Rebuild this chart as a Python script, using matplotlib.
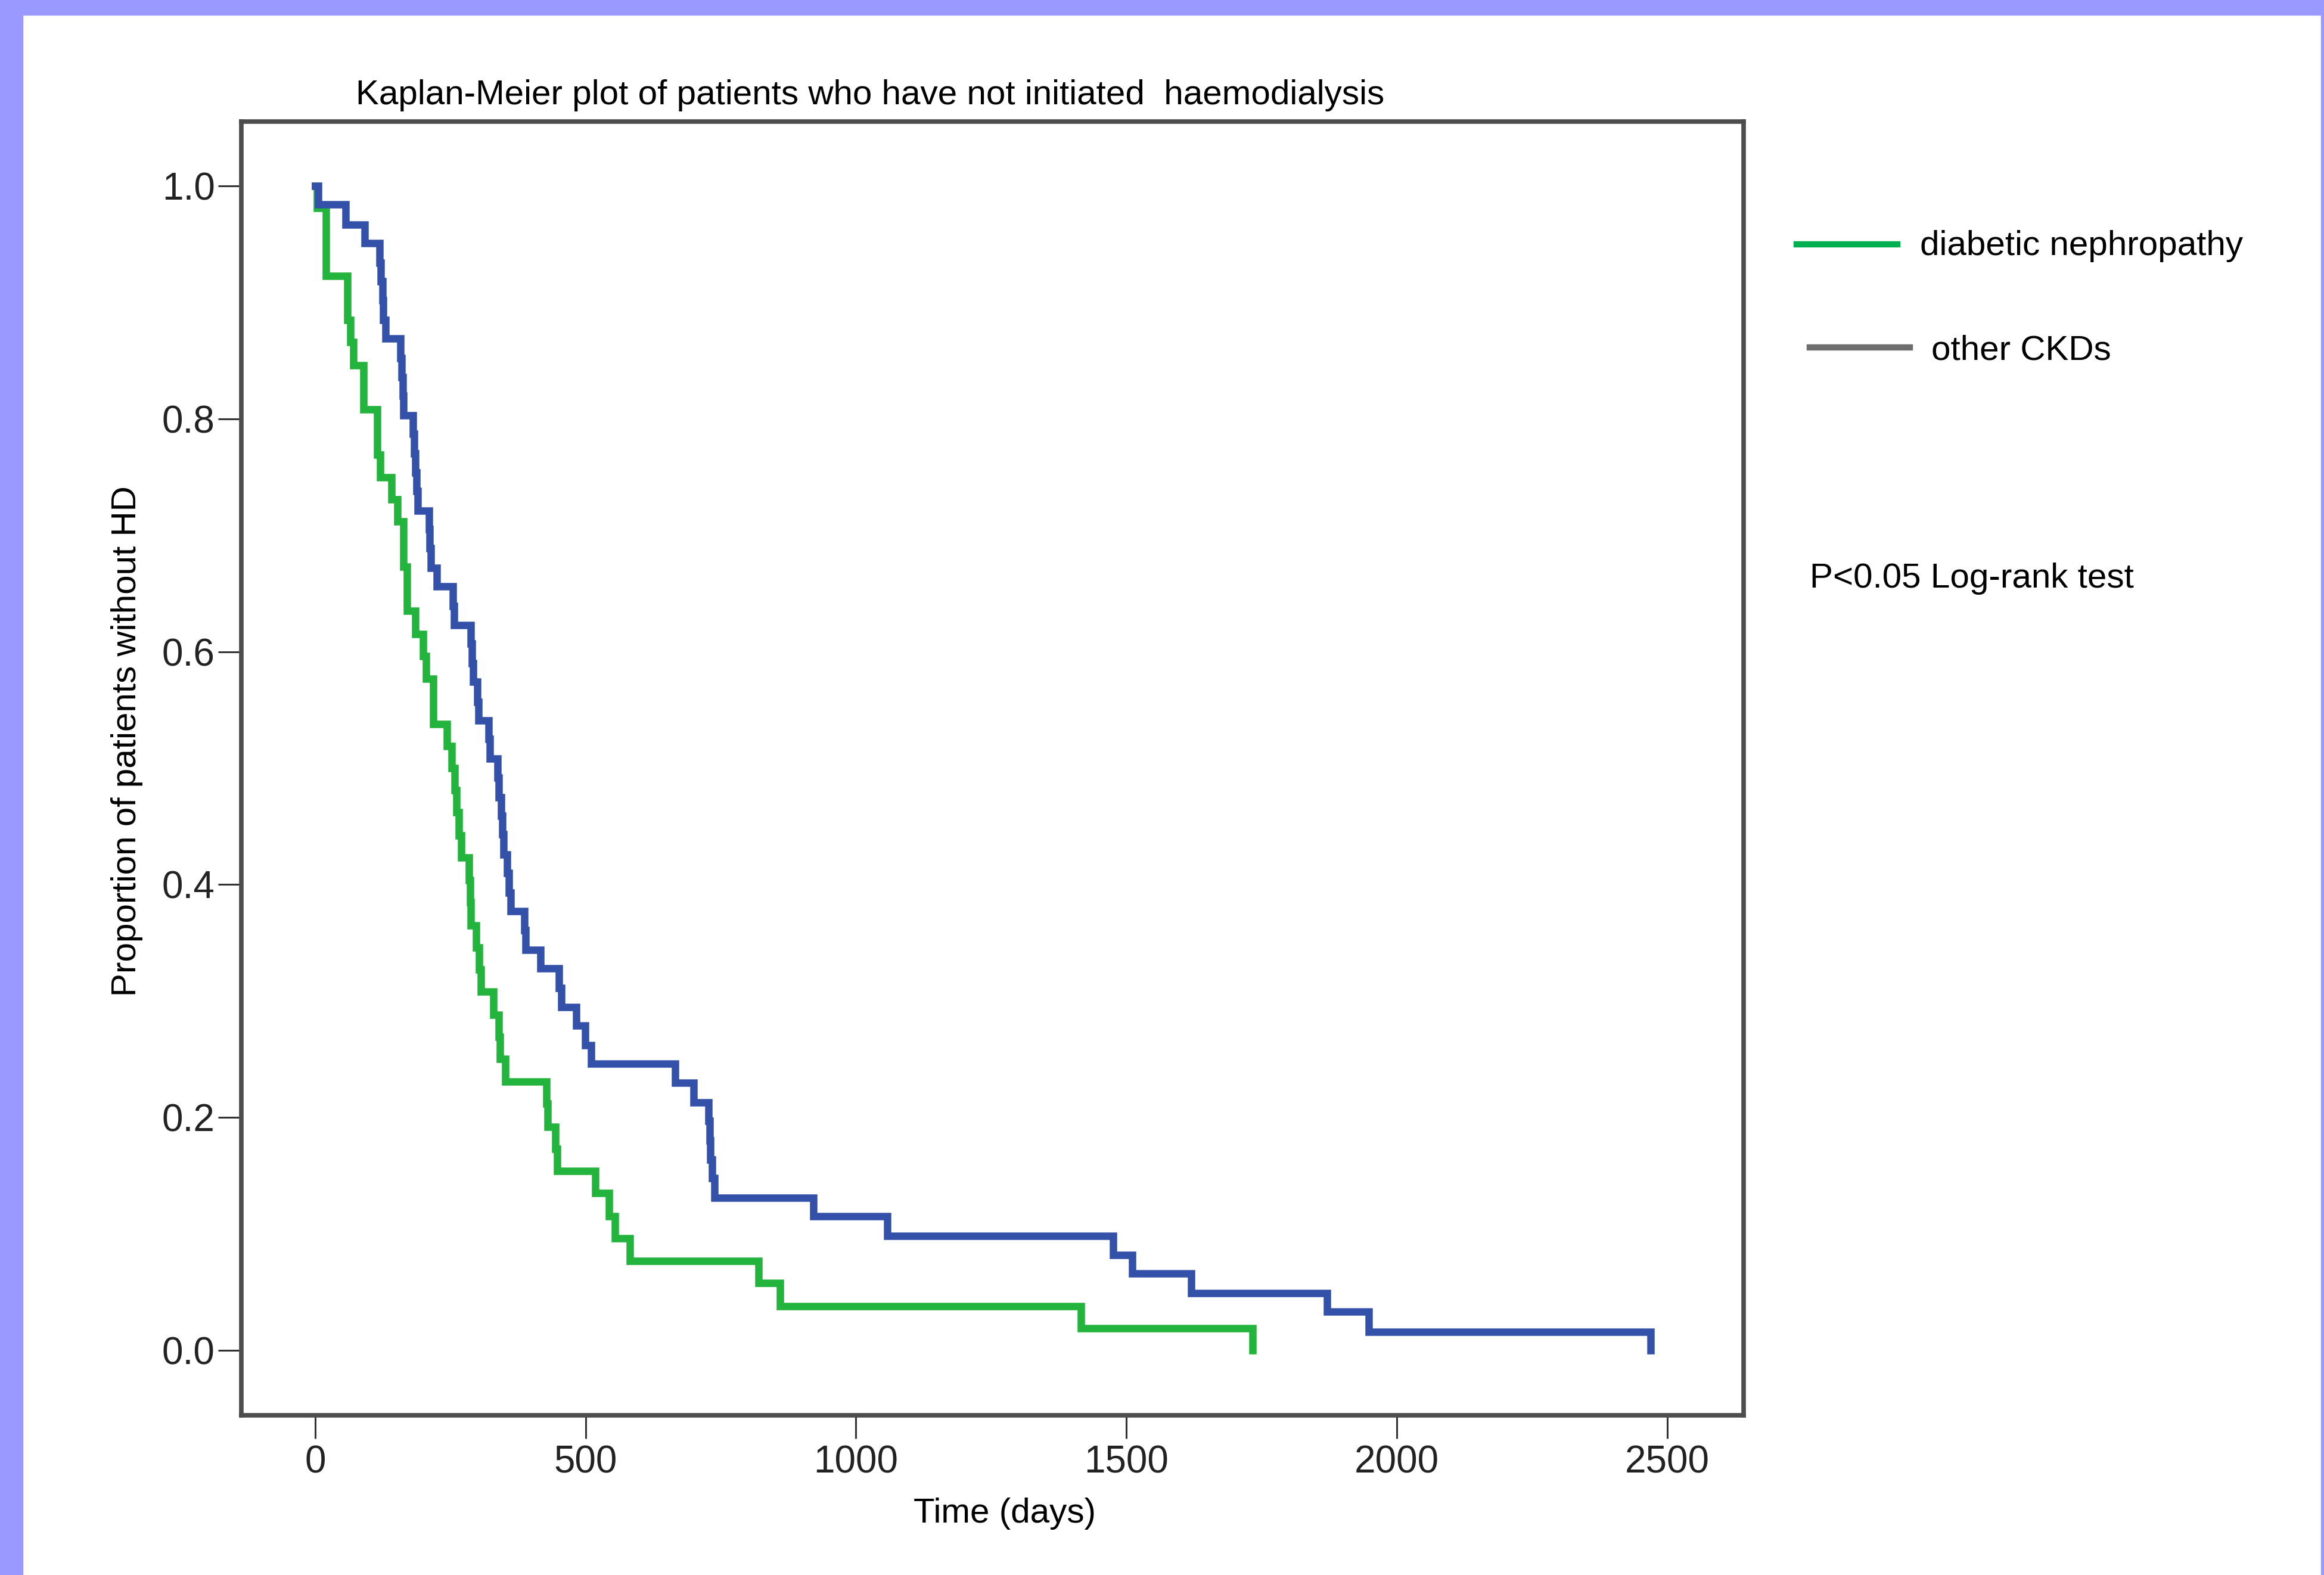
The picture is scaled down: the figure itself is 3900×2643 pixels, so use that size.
import matplotlib
matplotlib.use("Agg")
import matplotlib.pyplot as plt
from matplotlib.lines import Line2D
from matplotlib.patches import Rectangle

plt.rcParams['font.family'] = ['Liberation Sans', 'DejaVu Sans']

# Kaplan-Meier 估计
dn_time = [0, 3, 20, 60, 65, 71, 89, 115, 120, 141, 152, 163, 170, 185, 199, 205, 218,
           243, 252, 258, 261, 265, 270, 284, 286, 288, 298, 303, 306, 330, 339, 342,
           351, 427, 430, 444, 447, 518, 543, 554, 582, 820, 859, 1416, 1733]
dn_surv = [1.0, 0.981, 0.923, 0.885, 0.866, 0.846, 0.808, 0.769, 0.750, 0.731, 0.712,
           0.673, 0.635, 0.615, 0.596, 0.577, 0.538, 0.519, 0.500, 0.481, 0.462, 0.442,
           0.423, 0.404, 0.385, 0.365, 0.346, 0.327, 0.308, 0.288, 0.269, 0.250, 0.231,
           0.212, 0.192, 0.173, 0.154, 0.135, 0.115, 0.096, 0.077, 0.058, 0.038, 0.019, 0.0]

ckd_time = [0, 5, 56, 91, 119, 121, 124, 126, 130, 158, 160, 162, 163, 181, 183, 185,
            187, 189, 210, 212, 214, 225, 255, 257, 288, 290, 292, 300, 302, 321, 323,
            337, 339, 344, 346, 348, 355, 358, 361, 387, 389, 416, 451, 455, 483, 499,
            510, 666, 700, 727, 729, 731, 734, 738, 921, 1058, 1476, 1511, 1620, 1871,
            1948, 2470]
ckd_surv = [1.0, 0.984, 0.967, 0.951, 0.934, 0.918, 0.902, 0.885, 0.869, 0.852, 0.836,
            0.820, 0.803, 0.787, 0.770, 0.754, 0.738, 0.721, 0.705, 0.689, 0.672, 0.656,
            0.639, 0.623, 0.607, 0.590, 0.574, 0.557, 0.541, 0.525, 0.508, 0.492, 0.475,
            0.459, 0.443, 0.426, 0.410, 0.393, 0.377, 0.361, 0.344, 0.328, 0.311, 0.295,
            0.279, 0.262, 0.246, 0.230, 0.213, 0.197, 0.180, 0.164, 0.148, 0.131, 0.115,
            0.098, 0.082, 0.066, 0.049, 0.033, 0.016, 0.0]

x_ticks = [0, 500, 1000, 1500, 2000, 2500]
y_ticks = [0.0, 0.2, 0.4, 0.6, 0.8, 1.0]
legend_labels = ["diabetic nephropathy", "other CKDs"]

fig = plt.figure(figsize=(39, 26.43), dpi=100)

# 紫色边框
fig.add_artist(Rectangle((0, 0), 38 / 3900, 1, transform=fig.transFigure,
                         color='#9999ff', zorder=0))
fig.add_artist(Rectangle((0, 1 - 25 / 2643), 1, 25 / 2643, transform=fig.transFigure,
                         color='#9999ff', zorder=0))
fig.add_artist(Rectangle((1 - 5 / 3900, 0), 5 / 3900, 1, transform=fig.transFigure,
                         color='#9999ff', zorder=0))

ax = fig.add_axes([0.10385, 0.10140, 0.64641, 0.82141])
ax.plot(dn_time, dn_surv, drawstyle='steps-post', color='#22b43c', linewidth=9,
        solid_joinstyle='miter')
ax.plot(ckd_time, ckd_surv, drawstyle='steps-post', color='#3451aa', linewidth=9,
        solid_joinstyle='miter')

ax.set_xlim(-136.7, 2641.6)
ax.set_ylim(-0.0558, 1.0553)
ax.set_xticks(x_ticks)
ax.set_yticks(y_ticks)
ax.set_yticklabels([f"{v:.1f}" for v in y_ticks])
ax.tick_params(direction='out', length=28, width=2.2, color='#333333',
               labelsize=46, pad=4, labelcolor='#222222')
ax.tick_params(axis='x', pad=8)
for s in ax.spines.values():
    s.set_linewidth(5.5)
    s.set_color('#4d4d4d')

# 标题和坐标轴标签
fig.text(0.1531, 0.9338, "Kaplan-Meier plot of patients who have not initiated  haemodialysis",
         fontsize=42, ha='left', va='baseline')
fig.text(0.3931, 0.0333, "Time (days)", fontsize=42, ha='left', va='baseline')
fig.text(0.0545, 0.5293, "Proportion of patients without HD", fontsize=42,
         rotation=90, ha='center', va='center')

# 图例（手动）
fig.add_artist(Line2D([3015 / 3900, 3184 / 3900], [1 - 410 / 2643, 1 - 410 / 2643],
                      transform=fig.transFigure, color='#00b050', linewidth=7.5))
fig.add_artist(Line2D([3037 / 3900, 3205 / 3900], [1 - 583 / 2643, 1 - 583 / 2643],
                      transform=fig.transFigure, color='#6d6d6d', linewidth=7.5))
fig.text(3222 / 3900, 1 - 428 / 2643, legend_labels[0], fontsize=42, ha='left', va='baseline')
fig.text(3241 / 3900, 1 - 604 / 2643, legend_labels[1], fontsize=42, ha='left', va='baseline')
fig.text(3037 / 3900, 1 - 986 / 2643, "P<0.05 Log-rank test", fontsize=42,
         ha='left', va='baseline')

fig.savefig("out.png", dpi=100)
